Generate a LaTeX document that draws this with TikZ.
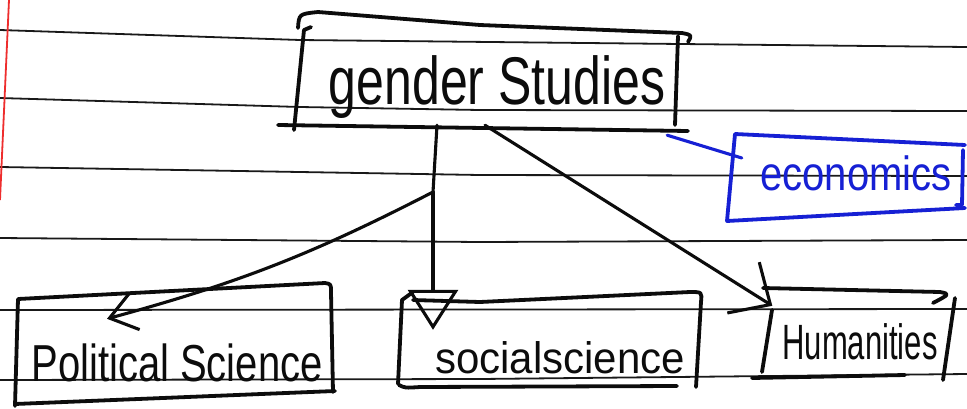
\documentclass[tikz,border=0pt]{standalone}
\usepackage{fontspec}
\setmainfont{Liberation Sans}
\usetikzlibrary{arrows.meta,calc}
\definecolor{ink}{RGB}{12,12,12}
\definecolor{inkblue}{RGB}{22,32,212}
\definecolor{marginred}{RGB}{238,45,45}
\definecolor{ruleink}{RGB}{25,25,25}
\begin{document}
\begin{tikzpicture}[x=1pt,y=-1pt,
  rule/.style={line width=1.8pt, ruleink},
  boxline/.style={line width=3.8pt, ink, line join=round, line cap=round},
  conn/.style={line width=3.1pt, ink, line cap=round, line join=round},
  area/.style={draw=none, inner sep=0pt, rectangle},
  hand/.style={inner sep=0pt, anchor=base, text=ink}]
\useasboundingbox (0,0) rectangle (967,408);
\fill[white] (0,0) rectangle (967,408);

% ruled paper
\draw[rule] (0,30) -- (300,40) -- (967,47);
\draw[rule] (0,98) -- (300,107) -- (480,110) -- (967,111);
\draw[rule] (0,167) -- (480,175) -- (967,176);
\draw[rule] (0,238) -- (480,242) -- (967,240);
\draw[rule] (0,310) -- (967,309);
\draw[rule] (0,380) -- (480,379) -- (967,374);
\draw[line width=1.8pt, marginred] (9,0) -- (0,200);

% node areas (for connectors)
\node[area, minimum width=390pt, minimum height=112pt] (gs) at (490,72) {};
\node[area, minimum width=236pt, minimum height=87pt] (eco) at (846,178) {};
\node[area, minimum width=320pt, minimum height=124pt] (ps) at (175,345) {};
\node[area, minimum width=300pt, minimum height=96pt] (ss) at (550,340) {};
\node[area, minimum width=203pt, minimum height=92pt] (hu) at (853,335) {};
\coordinate (J) at (433,192);

% texts
\node[hand] (gst) at (497,104) {\fontsize{50}{50}\selectfont\scalebox{1}[1.35]{gender Studies}};
\node[hand, text=inkblue] (ecot) at (856,190) {\fontsize{40}{40}\selectfont\scalebox{1}[1.2]{economics}};
\node[hand] (pst) at (177,381) {\fontsize{40}{40}\selectfont\scalebox{1}[1.3]{Political Science}};
\node[hand] (sst) at (560,373) {\fontsize{42}{42}\selectfont\scalebox{1}[1.05]{socialscience}};
\node[hand] (hut) at (860,359) {\fontsize{31}{31}\selectfont\scalebox{1}[1.6]{Humanities}};

% box outlines (hand drawn)
\draw[boxline] (298,28) .. controls (299,14) .. (318,12) -- (480,25) -- (682,33) .. controls (692,35) .. (688,42);
\draw[boxline] (311,27) -- (304,30) -- (294,130);
\draw[boxline] (678,36) -- (675,125);
\draw[boxline] (278,125) -- (688,131);

\draw[boxline, inkblue] (965,145) -- (735,134) -- (727,221) -- (965,208);
\draw[boxline, inkblue] (963,150) -- (962,205) -- (956,205);

\draw[boxline] (15,406) -- (18,299) -- (325,283) .. controls (331,284) .. (331,292) -- (333,392);
\draw[boxline] (15,404) -- (335,391);

\draw[boxline] (398,384) -- (402,300) -- (413,292);
\draw[boxline] (413,300) -- (480,302) -- (690,292) .. controls (702,292) .. (701,302) -- (696,387);
\draw[boxline] (399,385) .. controls (405,388) .. (420,387) -- (677,386);

\draw[boxline] (763,288) -- (940,292) .. controls (950,294) .. (933,303);
\draw[boxline] (772,310) -- (762,372);
\draw[boxline] (752,378) -- (905,375);
\draw[boxline] (955,298) -- (943,380);

% connectors
\draw[conn] ($(gs.south)+(-53,-3)$) -- (J);
\draw[conn, -{Triangle[open, length=40pt, width=50pt, line width=3.1pt]}] (J) -- ($(J |- ss.north)+(0,38)$);
\draw[conn, -{Straight Barb[length=26pt, width=38pt, line width=3.1pt]}] (J) to[bend left=6] ($(ps.north)+(-68,36)$);
\draw[conn, -{Straight Barb[length=32pt, width=60pt, line width=3.1pt]}] ($(gs.south)+(-5,-3)$) -- ($(hu.north west)+(21,17)$);
\draw[conn, inkblue] ($(gs.south east)+(-18,7)$) -- ($(eco.west)+(14,-20)$);
\end{tikzpicture}
\end{document}
